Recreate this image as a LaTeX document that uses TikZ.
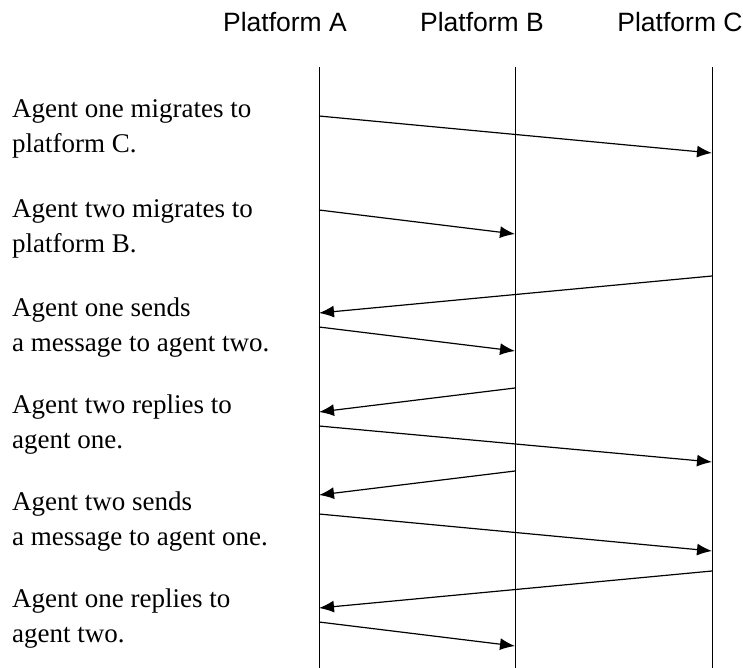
\documentclass[tikz,border=0pt]{standalone}
\usepackage{fontspec}
\setmainfont{Liberation Serif}
\setsansfont{Liberation Sans}
\usepackage{tikz}
\usetikzlibrary{positioning, arrows.meta, calc}

\begin{document}
\begin{tikzpicture}[x=1pt, y=-1pt, >={Latex[length=15pt, width=12pt]},
  platform/.style={anchor=base, inner sep=0pt, font=\sffamily\fontsize{26.5}{32}\selectfont},
  lifeline/.style={line width=1pt},
  msg/.style={->, line width=1.2pt},
  note/.style={anchor=base west, inner sep=0pt, align=left, font=\fontsize{27}{35}\selectfont}]

  \useasboundingbox (0,0) rectangle (743,668);

  % platforms and their lifelines
  \node[platform] (platA) at (285,32) {Platform A};
  \node[platform] (platB) at (482,32) {Platform B};
  \node[platform] (platC) at (680,32) {Platform C};

  \coordinate (topA) at (319,67);  \coordinate (botA) at (319,668);
  \coordinate (topB) at (515,67);  \coordinate (botB) at (515,668);
  \coordinate (topC) at (712,67);  \coordinate (botC) at (712,668);

  \draw[lifeline] (topA) -- (botA);
  \draw[lifeline] (topB) -- (botB);
  \draw[lifeline] (topC) -- (botC);

  % descriptions (anchored on the baseline of their last line)
  \node[note] (step1) at (12,153) {Agent one migrates to\\platform C.};
  \node[note] (step2) at (12,252) {Agent two migrates to\\platform B.};
  \node[note] (step3) at (12,351) {Agent one sends\\a message to agent two.};
  \node[note] (step4) at (12,448) {Agent two replies to\\agent one.};
  \node[note] (step5) at (12,545) {Agent two sends\\a message to agent one.};
  \node[note] (step6) at (12,642) {Agent one replies to\\agent two.};

  % message end points
  \coordinate (m1s) at (319,116);  \coordinate (m1e) at (712,153);
  \coordinate (m2s) at (319,210);  \coordinate (m2e) at (515,234);
  \coordinate (m3s) at (712,276);  \coordinate (m3e) at (319,313);
  \coordinate (m4s) at (319,327);  \coordinate (m4e) at (515,351);
  \coordinate (m5s) at (515,388);  \coordinate (m5e) at (319,412);
  \coordinate (m6s) at (319,426);  \coordinate (m6e) at (712,462);
  \coordinate (m7s) at (515,471);  \coordinate (m7e) at (319,495);
  \coordinate (m8s) at (319,514);  \coordinate (m8e) at (712,551);
  \coordinate (m9s) at (712,571);  \coordinate (m9e) at (319,608);
  \coordinate (m10s) at (319,622); \coordinate (m10e) at (515,646);

  \draw[msg] (m1s) -- (m1e);
  \draw[msg] (m2s) -- (m2e);
  \draw[msg] (m3s) -- (m3e);
  \draw[msg] (m4s) -- (m4e);
  \draw[msg] (m5s) -- (m5e);
  \draw[msg] (m6s) -- (m6e);
  \draw[msg] (m7s) -- (m7e);
  \draw[msg] (m8s) -- (m8e);
  \draw[msg] (m9s) -- (m9e);
  \draw[msg] (m10s) -- (m10e);
\end{tikzpicture}
\end{document}
